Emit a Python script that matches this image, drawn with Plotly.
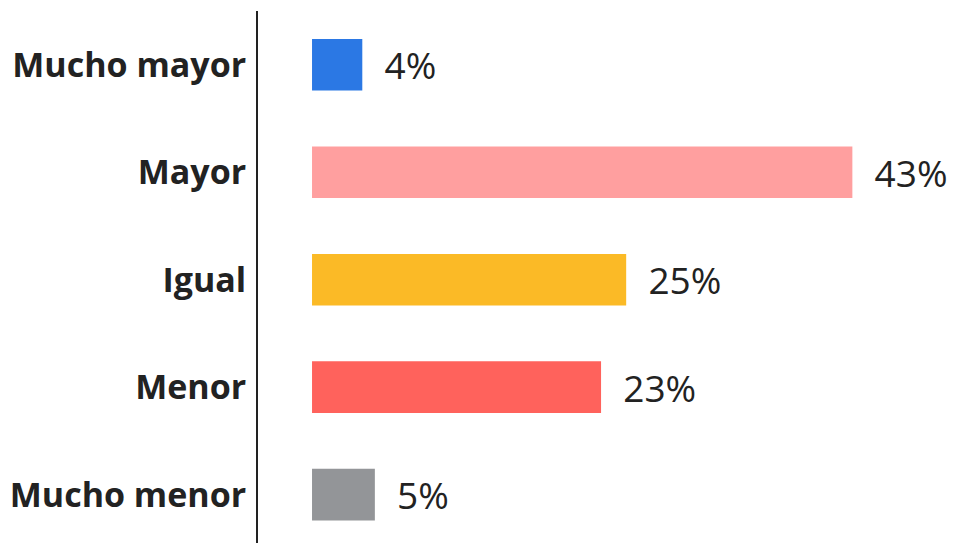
import plotly.graph_objects as go

categories = ["Mucho mayor", "Mayor", "Igual", "Menor", "Mucho menor"]
values = [4, 43, 25, 23, 5]
colors = ["#2B78E4", "#FF9F9F", "#FBBA26", "#FF625C", "#939598"]

fig = go.Figure(go.Bar(
    x=values,
    y=categories,
    orientation="h",
    marker=dict(color=colors, line=dict(width=0)),
    width=0.48,
    text=[f"{v}%" for v in values],
    texttemplate="  %{text}",
    textposition="outside",
    cliponaxis=False,
    textfont=dict(family="Open Sans", size=37, color="#222222"),
))

fig.update_layout(
    width=965, height=543,
    margin=dict(l=250, r=0, t=3, b=8),
    paper_bgcolor="white", plot_bgcolor="white",
    showlegend=False,
    xaxis=dict(range=[-4.3, 52.6], visible=False, showgrid=False, zeroline=False),
    yaxis=dict(
        type="category",
        range=[4.45, -0.5],
        showline=True, linecolor="#222222", linewidth=2,
        showgrid=False, zeroline=False, ticks="",
        ticklabelstandoff=3,
        tickfont=dict(family="Open Sans", size=34, color="#222222", weight="bold"),
    ),
    uniformtext=dict(mode=False),
)

fig.write_html("out.html")
